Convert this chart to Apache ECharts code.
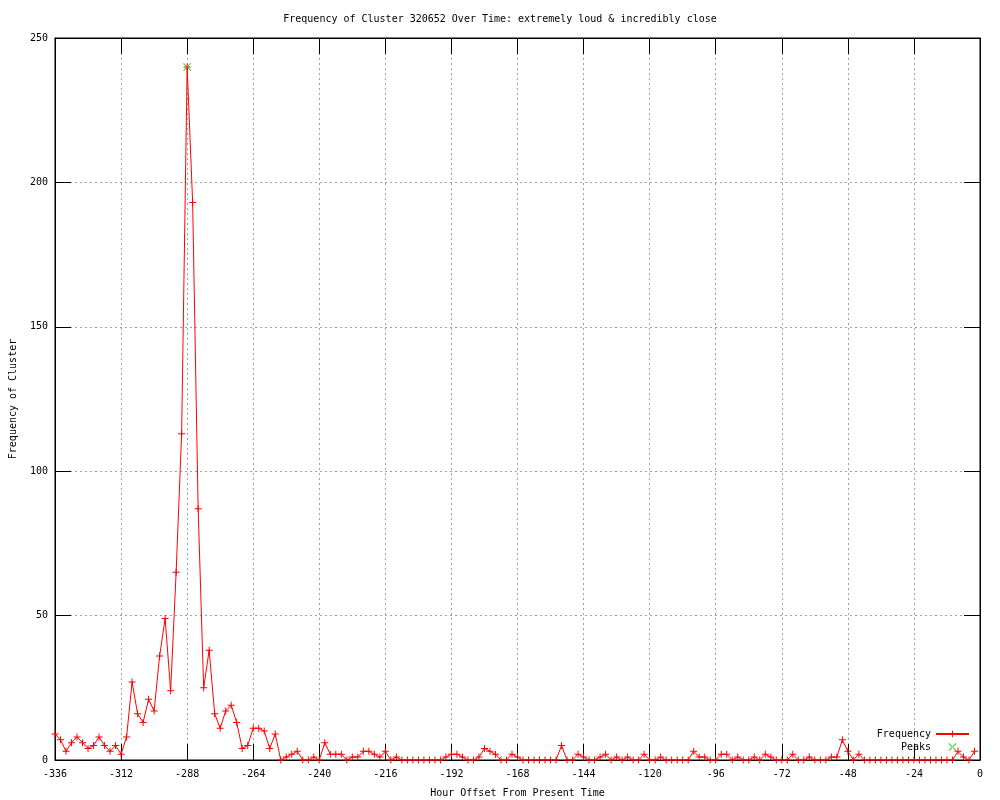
<!DOCTYPE html>
<html><head><meta charset="utf-8">
<script src="https://cdn.jsdelivr.net/npm/echarts@6/dist/echarts.min.js"></script>
<style>html,body{margin:0;padding:0;background:#fff}#c{width:1000px;height:800px}</style>
</head><body><div id="c"></div>
<script>
// Hour offsets (2-hour bins) from -336 to -2
const startHour = -336;
const stepHours = 2;
// Frequency values, one per 2-hour bin, grouped by 24-hour blocks
const freq = [
  9, 7, 3, 6, 8, 6, 4, 5, 8, 5, 3, 5,          // -336 .. -314
  2, 8, 27, 16, 13, 21, 17, 36, 49, 24, 65, 113, // -312 .. -290
  240, 193, 87, 25, 38, 16, 11, 17, 19, 13, 4, 5, // -288 .. -266
  11, 11, 10, 4, 9, 0, 1, 2, 3, 0, 0, 1,       // -264 .. -242
  0, 6, 2, 2, 2, 0, 1, 1, 3, 3, 2, 1,          // -240 .. -218
  3, 0, 1, 0, 0, 0, 0, 0, 0, 0, 0, 1,          // -216 .. -194
  2, 2, 1, 0, 0, 1, 4, 3, 2, 0, 0, 2,          // -192 .. -170
  1, 0, 0, 0, 0, 0, 0, 0, 5, 0, 0, 2,          // -168 .. -146
  1, 0, 0, 1, 2, 0, 1, 0, 1, 0, 0, 2,          // -144 .. -122
  0, 0, 1, 0, 0, 0, 0, 0, 3, 1, 1, 0,          // -120 .. -98
  0, 2, 2, 0, 1, 0, 0, 1, 0, 2, 1, 0,          // -96 .. -74
  0, 0, 2, 0, 0, 1, 0, 0, 0, 1, 1, 7,          // -72 .. -50
  3, 0, 2, 0, 0, 0, 0, 0, 0, 0, 0, 0,          // -48 .. -26
  0, 0, 0, 0, 0, 0, 0, 0, 3, 1, 0, 3           // -24 .. -2
];
const hours = freq.map((_, i) => startHour + i * stepHours);
const peakHours = [-288];
const peakValues = [240];

const titleText = 'Frequency of Cluster 320652 Over Time: extremely loud & incredibly close';
const xName = 'Hour Offset From Present Time';
const yName = 'Frequency of Cluster';

const FONT = '"DejaVu Sans Mono", "Liberation Mono", monospace';
const PLUS = 'path://M3,0h1v7h-1z M0,3h7v1h-7z';
const CROSS = 'path://M0,0.7L0.7,0L8,7.3L7.3,8Z M8,0.7L7.3,0L0,7.3L0.7,8Z';

const chart = echarts.init(document.getElementById('c'), null, {renderer: 'canvas'});
const gridLine = {show: true, lineStyle: {color: '#a0a0a0', width: 1, type: [2, 3]}};
const tickIn = {show: true, inside: true, length: 16, lineStyle: {color: '#000', width: 1}};
chart.setOption({
  animation: false,
  backgroundColor: '#fff',
  title: {
    text: titleText, left: 'center', top: 9,
    textStyle: {fontFamily: FONT, fontSize: 10, fontWeight: 'normal', color: '#000'}
  },
  grid: {left: 55, right: 20, top: 38, bottom: 40, show: true, borderColor: '#000', borderWidth: 1,
         containLabel: false, outerBoundsMode: 'none'},
  legend: {
    data: ['Frequency', 'Peaks'], orient: 'vertical', right: 30, top: 729, align: 'right',
    padding: 0, itemGap: 3, itemWidth: 33, itemHeight: 8,
    textStyle: {fontFamily: FONT, fontSize: 10, color: '#000'}
  },
  xAxis: [
    {type: 'value', min: -336, max: 0, interval: 24, position: 'bottom',
     name: xName, nameLocation: 'middle', nameGap: 28,
     nameTextStyle: {fontFamily: FONT, fontSize: 10, color: '#000'},
     axisLine: {show: true, onZero: false, lineStyle: {color: '#000'}}, axisTick: tickIn,
     axisLabel: {fontFamily: FONT, fontSize: 10, color: '#000', margin: 9},
     splitLine: gridLine},
    {type: 'value', min: -336, max: 0, interval: 24, position: 'top',
     axisLine: {show: true, onZero: false, lineStyle: {color: '#000'}}, axisTick: tickIn,
     axisLabel: {show: false}, splitLine: {show: false}}
  ],
  yAxis: [
    {type: 'value', min: 0, max: 250, interval: 50, position: 'left',
     name: yName, nameLocation: 'middle', nameGap: 37, nameRotate: 90,
     nameTextStyle: {fontFamily: FONT, fontSize: 10, color: '#000'},
     axisLine: {show: true, onZero: false, lineStyle: {color: '#000'}}, axisTick: tickIn,
     axisLabel: {fontFamily: FONT, fontSize: 10, color: '#000', margin: 7},
     splitLine: gridLine},
    {type: 'value', min: 0, max: 250, interval: 50, position: 'right',
     axisLine: {show: true, onZero: false, lineStyle: {color: '#000'}}, axisTick: tickIn,
     axisLabel: {show: false}, splitLine: {show: false}}
  ],
  series: [
    {name: 'Frequency', type: 'line', xAxisIndex: 0, yAxisIndex: 0,
     data: hours.map((h, i) => [h, freq[i]]),
     symbol: PLUS, symbolSize: 7, showAllSymbol: true,
     lineStyle: {color: '#ff0000', width: 1}, itemStyle: {color: '#ff0000'},
     emphasis: {disabled: true}, z: 3},
    {name: 'Peaks', type: 'scatter', xAxisIndex: 0, yAxisIndex: 0,
     data: peakHours.map((h, i) => [h, peakValues[i]]),
     symbol: CROSS, symbolSize: 8,
     itemStyle: {color: '#00c000'}, emphasis: {disabled: true}, z: 4}
  ]
});
</script></body></html>
